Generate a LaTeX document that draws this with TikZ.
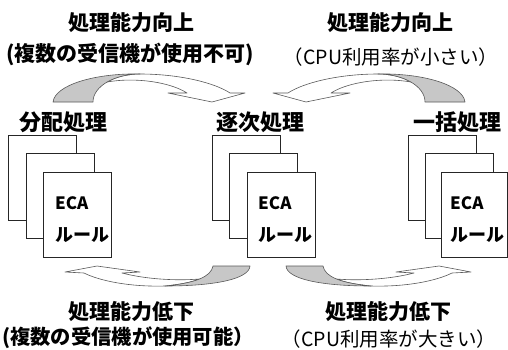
\documentclass[tikz,border=0pt]{standalone}
\usepackage{fontspec}
\setmainfont{Noto Sans CJK JP}
\begin{document}
\begin{tikzpicture}[x=1pt,y=-1pt,
  box/.style={draw=black!85, fill=white, line width=0.8pt, minimum width=68pt, minimum height=85pt, anchor=north west, inner sep=0},
  grayband/.style={fill=black!22, draw=black!65, line width=0.6pt, line join=round},
  whiteband/.style={fill=white, draw=black!65, line width=0.6pt, line join=round},
  ttl/.style={font=\bfseries\fontsize{21}{21}\selectfont, inner sep=0},
  sub/.style={font=\fontsize{19.5}{20}\selectfont, inner sep=0},
  lbl/.style={font=\bfseries\fontsize{22}{22}\selectfont, inner sep=0},
  eca/.style={font=\bfseries\fontsize{17}{17}\selectfont, inner sep=0, anchor=west},
  rule/.style={font=\bfseries\fontsize{18}{18}\selectfont, inner sep=0, anchor=west}]
\useasboundingbox (0,0) rectangle (508,349);

% ---------- top arrows ----------
\newcommand{\toparrow}{%
  \draw[whiteband] (140,74) .. controls (180,74) and (215,83) .. (230,93) -- (245,93) -- (212,102) -- (168,93) -- (187,93)
     .. controls (170,82) and (135,77) .. (107.1,82) .. controls (115.75,77) and (127.5,74) .. (140,74) -- cycle;
  \draw[grayband] (53,102) -- (93,102) .. controls (93,86) and (115,74) .. (140,74) .. controls (95,73) and (55,85) .. (53,102) -- cycle;
}
\toparrow
\begin{scope}[xshift=518pt, xscale=-1]
  \toparrow
\end{scope}

% ---------- bottom arrows ----------
\newcommand{\botarrow}{%
  \draw[whiteband] (165,286) .. controls (130,287) and (100,281) .. (84,273) -- (65,272) -- (97,266) -- (140,272) -- (122,273)
     .. controls (145,279) and (175,281) .. (199.4,279) .. controls (191.5,282.25) and (180,284.5) .. (165,286) -- cycle;
  \draw[grayband] (213,266) -- (250,266) .. controls (249,279) and (215,286) .. (165,286) .. controls (195,283) and (211,277) .. (213,266) -- cycle;
}
\botarrow
\begin{scope}[xshift=536pt, xscale=-1]
  \botarrow
\end{scope}

% ---------- texts ----------
\node[ttl] (t1) at (131,23) {処理能力向上};
\node[ttl] (t2) at (130,54) {(複数の受信機が使用不可)};
\node[ttl] (t3) at (390,23) {処理能力向上};
\node[sub] (t4) at (391,57) {（CPU利用率が小さい）};
\node[ttl] (b1) at (131,312) {処理能力低下};
\node[ttl, font=\bfseries\fontsize{20.3}{20.3}\selectfont] (b2) at (128,338) {(複数の受信機が使用可能）};
\node[ttl] (b3) at (388,312) {処理能力低下};
\node[sub] (b4) at (389,339) {（CPU利用率が大きい）};

\node[lbl] (n1) at (63,122) {分配処理};
\node[lbl] (n2) at (260,122) {逐次処理};
\node[lbl] (n3) at (457,122) {一括処理};

% ---------- stacks ----------
\node[box] (a1) at (8,135) {};
\node[box] (a2) at (26,153) {};
\node[box] (a3) at (43,172) {};
\node[eca] (ae) at (55,203) {ECA};
\node[rule] (ar) at (55,235) {ルール};

\node[box] (m1) at (212,135) {};
\node[box] (m2) at (229,153) {};
\node[box] (m3) at (247,172) {};
\node[eca] (me) at (258,203) {ECA};
\node[rule] (mr) at (258,235) {ルール};

\node[box] (r1) at (408,135) {};
\node[box] (r2) at (425,153) {};
\node[box, minimum width=66pt] (r3) at (441,172) {};
\node[eca] (re) at (450,203) {ECA};
\node[rule] (rr) at (450,235) {ルール};
\end{tikzpicture}
\end{document}
